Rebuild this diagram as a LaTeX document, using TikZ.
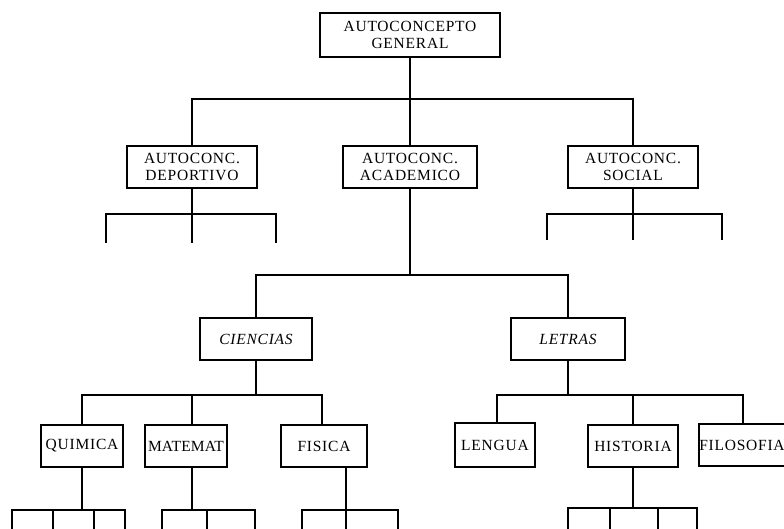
\documentclass[tikz,border=0pt]{standalone}
\usepackage{fontspec}
\newfontfamily\boxfont[LetterSpace=5]{Liberation Serif}
\newfontfamily\boxfontn[LetterSpace=1]{Liberation Serif}
\begin{document}
\begin{tikzpicture}[x=1pt,y=-1pt,line width=1.5pt,
  box/.style={draw,rectangle,inner sep=0pt,align=center,minimum height=42pt,
    font={\boxfont\fontsize{15.5}{17}\selectfont}},
  it/.style={font={\boxfont\itshape\fontsize{15.5}{17}\selectfont}},
  tight/.style={font={\boxfontn\fontsize{15.5}{17}\selectfont}}]
\useasboundingbox (0,0) rectangle (784,529);
\clip (0,0) rectangle (784,529);
% nodes
\node[box,minimum width=180pt,minimum height=44pt] (gen) at (410,35) {AUTOCONCEPTO\\GENERAL};
\node[box,minimum width=130pt] (dep) at (192,167) {AUTOCONC.\\DEPORTIVO};
\node[box,minimum width=134pt] (aca) at (410,167) {AUTOCONC.\\ACADEMICO};
\node[box,minimum width=130pt] (soc) at (633,167) {AUTOCONC.\\SOCIAL};
\node[box,it,minimum width=112pt] (cie) at (256,339) {CIENCIAS};
\node[box,it,minimum width=114pt] (let) at (568,339) {LETRAS};
\node[box,minimum width=82pt] (qui) at (82,446) {QUIMICA};
\node[box,tight,minimum width=82pt] (mat) at (186,446) {MATEMAT};
\node[box,minimum width=86pt] (fis) at (324,446) {FISICA};
\node[box,minimum width=80pt,minimum height=44pt] (len) at (495,445) {LENGUA};
\node[box,minimum width=90pt] (his) at (633,446) {HISTORIA};
\node[box,anchor=west,minimum width=100pt,text width=99pt,align=left,inner xsep=0.5pt] (fil) at (698,445) {FILOSOFIA};
% junctions
\coordinate (ja) at (410,99);
\coordinate (dh) at (192,214);
\coordinate (sh) at (633,214);
\coordinate (ha) at (410,275);
\coordinate (hc) at (256,395);
\coordinate (hl) at (568,395);
\coordinate (hq) at (82,510);
\coordinate (hm) at (192,510);
\coordinate (hf) at (346,510);
\coordinate (hh) at (633,508);
% leg ends
\coordinate (d1) at (106,243); \coordinate (d2) at (192,243); \coordinate (d3) at (276,243);
\coordinate (s1) at (547,240); \coordinate (s2) at (633,240); \coordinate (s3) at (722,240);
\coordinate (q1) at (12,535); \coordinate (q2) at (53,535); \coordinate (q3) at (94,535); \coordinate (q4) at (125,535);
\coordinate (m1) at (162,535); \coordinate (m2) at (207,535); \coordinate (m3) at (255,535);
\coordinate (f1) at (302,535); \coordinate (f2) at (346,535); \coordinate (f3) at (398,535);
\coordinate (h1) at (568,535); \coordinate (h2) at (610,535); \coordinate (h3) at (658,535); \coordinate (h4) at (697,535);
% level 1
\draw (gen.south) -- (ja);
\draw (dep.north) -- (dep.north |- ja) -- (soc.north |- ja) -- (soc.north);
\draw (aca.north) -- (aca.north |- ja);
% deportivo
\draw (dep.south) -- (d2);
\draw (d1) -- (d1 |- dh) -- (d3 |- dh) -- (d3);
% social
\draw (soc.south) -- (s2);
\draw (s1) -- (s1 |- sh) -- (s3 |- sh) -- (s3);
% academico
\draw (aca.south) -- (ha);
\draw (cie.north) -- (cie.north |- ha) -- (let.north |- ha) -- (let.north);
% ciencias
\draw (cie.south) -- (hc);
\draw (qui.north) -- (qui.north |- hc) -- ([xshift=-2pt]fis.north |- hc) -- ([xshift=-2pt]fis.north);
\draw ([xshift=6pt]mat.north) -- ([xshift=6pt]mat.north |- hc);
% letras
\draw (let.south) -- (hl);
\draw ([xshift=2pt]len.north) -- ([xshift=2pt]len.north |- hl) -- ([xshift=45pt]fil.north west |- hl) -- ([xshift=45pt]fil.north west);
\draw (his.north) -- (his.north |- hl);
% quimica
\draw (qui.south) -- (hq);
\draw (q1) -- (q1 |- hq) -- (q4 |- hq) -- (q4);
\draw (q2) -- (q2 |- hq); \draw (q3) -- (q3 |- hq);
% matemat
\draw ([xshift=6pt]mat.south) -- (hm);
\draw (m1) -- (m1 |- hm) -- (m3 |- hm) -- (m3);
\draw (m2) -- (m2 |- hm);
% fisica
\draw ([xshift=22pt]fis.south) -- (hf);
\draw (f1) -- (f1 |- hf) -- (f3 |- hf) -- (f3);
\draw (f2) -- (f2 |- hf);
% historia
\draw (his.south) -- (hh);
\draw (h1) -- (h1 |- hh) -- (h4 |- hh) -- (h4);
\draw (h2) -- (h2 |- hh); \draw (h3) -- (h3 |- hh);
\end{tikzpicture}
\end{document}
